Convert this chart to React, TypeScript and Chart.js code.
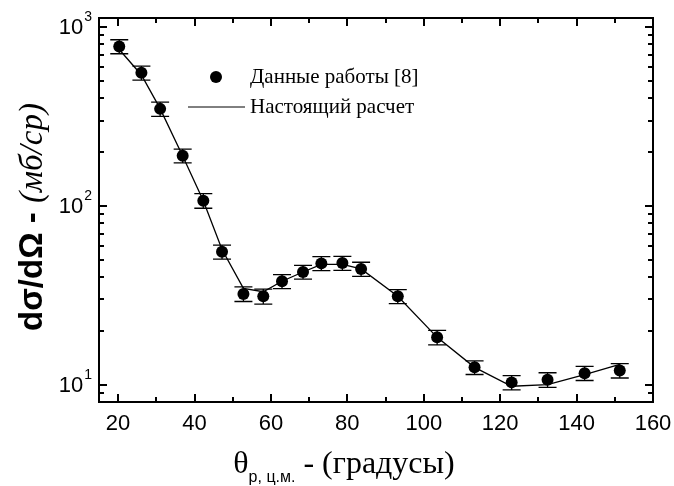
import React, { useEffect, useRef } from "react";
import { Chart, registerables } from "chart.js";

Chart.register(...registerables);

// Measured data (Данные работы [8])
const angles = [20.3, 26.1, 31.0, 36.9, 42.3, 47.2, 52.8, 58.0, 62.9, 68.4, 73.2, 78.7, 83.6, 93.2, 103.5, 113.3, 123.0, 132.4, 142.1, 151.3];
const measured = [780, 555, 349, 191, 107, 55.4, 32.2, 31.2, 37.9, 42.7, 47.7, 47.9, 44.4, 31.2, 18.4, 12.5, 10.3, 10.66, 11.6, 12.0];
const errors = [70, 50, 32, 17, 10, 5, 3, 3, 3.4, 3.8, 4.3, 4.3, 4, 2.8, 1.7, 1.1, 0.95, 1.0, 1.05, 1.1];

// Calculation (Настоящий расчет)
const calcAngles = [20.3, 26.1, 31.0, 36.9, 42.3, 47.2, 52.8, 58.0, 62.9, 68.4, 73.2, 78.7, 83.6, 93.2, 103.5, 113.3, 123.0, 132.4, 142.1, 151.3];
const calculated = [750, 540, 350, 190, 107, 57, 34.6, 33.1, 37.9, 42.7, 47.1, 47.1, 44.4, 31.2, 18.4, 12.5, 9.8, 10.0, 11.4, 13.0];

// Axes
const xMin = 15;
const xMax = 160;
const yMin = 8;
const yMax = 1125;
const xMajorTicks = [20, 40, 60, 80, 100, 120, 140, 160];
const xMinorTicks = [30, 50, 70, 90, 110, 130, 150];
const yMajorTicks = [10, 100, 1000];
const yMajorExponents = ["1", "2", "3"];
const yMinorTicks = [8, 9, 20, 30, 40, 50, 60, 70, 80, 90, 200, 300, 400, 500, 600, 700, 800, 900];

const legendMeasured = "Данные работы [8]";
const legendCalc = "Настоящий расчет";

const SANS = "'Liberation Sans', Arial, sans-serif";
const SERIF = "'Liberation Serif', 'Times New Roman', serif";

const framePlugin = {
  id: "framePlugin",
  afterDatasetsDraw(chart: any) {
    const ctx = chart.ctx as CanvasRenderingContext2D;
    const xs = chart.scales.x;
    const ys = chart.scales.y;
    const { left, right, top, bottom } = chart.chartArea;

    ctx.save();
    // error bars
    ctx.strokeStyle = "#000";
    ctx.lineWidth = 1.3;
    for (let i = 0; i < angles.length; i++) {
      const px = xs.getPixelForValue(angles[i]);
      const yHi = ys.getPixelForValue(measured[i] + errors[i]);
      const yLo = ys.getPixelForValue(measured[i] - errors[i]);
      ctx.beginPath();
      ctx.moveTo(px, yHi);
      ctx.lineTo(px, yLo);
      ctx.moveTo(px - 9, yHi);
      ctx.lineTo(px + 9, yHi);
      ctx.moveTo(px - 9, yLo);
      ctx.lineTo(px + 9, yLo);
      ctx.stroke();
    }

    // frame
    ctx.lineWidth = 2;
    ctx.strokeRect(left, top, right - left, bottom - top);

    // ticks (inward)
    const major = 8;
    const minor = 5;
    ctx.beginPath();
    for (const v of xMajorTicks) {
      const px = Math.round(xs.getPixelForValue(v));
      ctx.moveTo(px, bottom);
      ctx.lineTo(px, bottom - major);
      ctx.moveTo(px, top);
      ctx.lineTo(px, top + major);
    }
    for (const v of xMinorTicks) {
      const px = Math.round(xs.getPixelForValue(v));
      ctx.moveTo(px, bottom);
      ctx.lineTo(px, bottom - minor);
      ctx.moveTo(px, top);
      ctx.lineTo(px, top + minor);
    }
    for (const v of yMajorTicks) {
      const py = Math.round(ys.getPixelForValue(v));
      ctx.moveTo(left, py);
      ctx.lineTo(left + major, py);
      ctx.moveTo(right, py);
      ctx.lineTo(right - major, py);
    }
    for (const v of yMinorTicks) {
      const py = Math.round(ys.getPixelForValue(v));
      ctx.moveTo(left, py);
      ctx.lineTo(left + minor, py);
      ctx.moveTo(right, py);
      ctx.lineTo(right - minor, py);
    }
    ctx.stroke();

    // x tick labels
    ctx.fillStyle = "#000";
    ctx.font = `22px ${SANS}`;
    ctx.textAlign = "center";
    ctx.textBaseline = "middle";
    for (const v of xMajorTicks) {
      ctx.fillText(String(v), xs.getPixelForValue(v), bottom + 22);
    }

    // y tick labels 10^n
    for (let i = 0; i < yMajorTicks.length; i++) {
      const py = ys.getPixelForValue(yMajorTicks[i]);
      ctx.font = `14px ${SANS}`;
      ctx.textAlign = "right";
      ctx.textBaseline = "middle";
      const supW = ctx.measureText(yMajorExponents[i]).width;
      const rightEdge = left - 7;
      ctx.fillText(yMajorExponents[i], rightEdge, py - 10);
      ctx.font = `22px ${SANS}`;
      ctx.fillText("10", rightEdge - supW - 1, py + 1);
    }

    // y axis title (rotated, mixed fonts)
    ctx.save();
    ctx.translate(42, 217);
    ctx.rotate(-Math.PI / 2);
    ctx.textBaseline = "alphabetic";
    ctx.textAlign = "left";
    const part1 = "dσ/dΩ - ";
    const part2 = "(мб/ср)";
    ctx.font = `bold 33px ${SANS}`;
    const w1 = ctx.measureText(part1).width;
    ctx.font = `italic 33px ${SERIF}`;
    const w2 = ctx.measureText(part2).width;
    const start = -(w1 + w2) / 2;
    ctx.font = `bold 33px ${SANS}`;
    ctx.fillText(part1, start, 0);
    ctx.font = `italic 33px ${SERIF}`;
    ctx.fillText(part2, start + w1, 0);
    ctx.restore();

    // x axis title: θ_{р, ц.м.} - (градусы)
    {
      const theta = "θ";
      const sub = "р, ц.м.";
      const rest = " - (градусы)";
      ctx.textAlign = "left";
      ctx.textBaseline = "alphabetic";
      ctx.font = `32px ${SERIF}`;
      const wt = ctx.measureText(theta).width;
      const wr = ctx.measureText(rest).width;
      ctx.font = `16px ${SANS}`;
      const ws = ctx.measureText(sub).width;
      const total = wt + ws + wr;
      const cx = 344;
      const baseY = bottom + 71;
      let x0 = cx - total / 2;
      ctx.font = `32px ${SERIF}`;
      ctx.fillText(theta, x0, baseY);
      x0 += wt;
      ctx.font = `16px ${SANS}`;
      ctx.fillText(sub, x0, baseY + 9);
      x0 += ws;
      ctx.font = `32px ${SERIF}`;
      ctx.fillText(rest, x0, baseY);
    }

    // legend
    ctx.font = `21px ${SERIF}`;
    ctx.textAlign = "left";
    ctx.textBaseline = "middle";
    ctx.beginPath();
    ctx.arc(216, 77, 6, 0, Math.PI * 2);
    ctx.fill();
    ctx.fillText(legendMeasured, 250, 77);
    ctx.lineWidth = 1;
    ctx.beginPath();
    ctx.moveTo(188, 107);
    ctx.lineTo(245, 107);
    ctx.stroke();
    ctx.fillText(legendCalc, 250, 107);

    ctx.restore();
  },
};

export default function App() {
  const canvasRef = useRef<HTMLCanvasElement | null>(null);

  useEffect(() => {
    const canvas = canvasRef.current;
    if (!canvas) return;
    const chart = new Chart(canvas, {
      type: "scatter",
      data: {
        datasets: [
          {
            label: legendCalc,
            data: calcAngles.map((x, i) => ({ x, y: calculated[i] })),
            showLine: true,
            borderColor: "#000",
            borderWidth: 1.3,
            pointRadius: 0,
            tension: 0,
          },
          {
            label: legendMeasured,
            data: angles.map((x, i) => ({ x, y: measured[i] })),
            showLine: false,
            pointRadius: 6,
            pointBackgroundColor: "#000",
            pointBorderColor: "#000",
            pointBorderWidth: 0,
          },
        ],
      },
      options: {
        animation: false,
        responsive: false,
        maintainAspectRatio: false,
        devicePixelRatio: 1,
        layout: { padding: { left: 99, right: 21, top: 18, bottom: 84 } },
        plugins: { legend: { display: false }, tooltip: { enabled: false } },
        scales: {
          x: { type: "linear", min: xMin, max: xMax, display: false },
          y: { type: "logarithmic", min: yMin, max: yMax, display: false },
        },
      },
      plugins: [framePlugin],
    });
    return () => chart.destroy();
  }, []);

  return (
    <div style={{ position: "absolute", left: 0, top: 0, width: 674, height: 486, background: "#fff" }}>
      <canvas ref={canvasRef} width={674} height={486} style={{ width: 674, height: 486 }} />
    </div>
  );
}
